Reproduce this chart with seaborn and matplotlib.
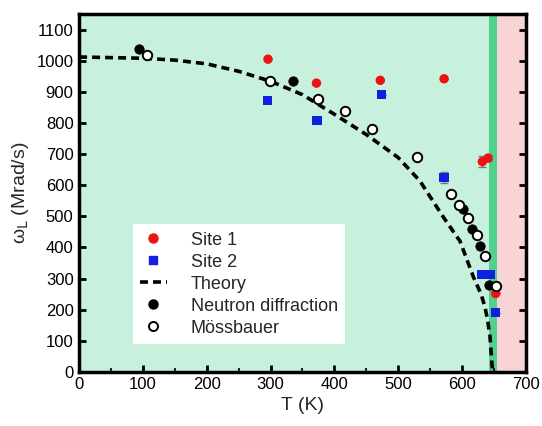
import matplotlib
matplotlib.use("Agg")
import matplotlib.pyplot as plt
import seaborn as sns
import pandas as pd

# --- data ---
site1_T = [296, 372, 472, 572, 632, 641, 653]
site1_w = [1005, 928, 937, 942, 676, 687, 252]
site1_err = [0, 0, 0, 0, 18, 10, 0]

site2_T = [295, 373, 474, 572, 631, 644, 653]
site2_w = [873, 808, 891, 625, 313, 313, 190]
site2_err = [0, 0, 0, 18, 0, 0, 0]

theory_T = [0, 100, 150, 200, 250, 300, 350, 400, 450, 500, 534, 571, 597,
            618, 630, 636, 640, 644, 648]
theory_w = [1012, 1008, 1002, 990, 966, 934, 891, 828, 763, 689, 614, 497,
            420, 305, 250, 209, 170, 113, 0]

neutron_T = [94, 335, 602, 616, 628, 643]
neutron_w = [1039, 934, 525, 459, 404, 278]

moss_T = [106, 299, 375, 416, 459, 529, 583, 595, 610, 623, 636, 653]
moss_w = [1017, 934, 878, 838, 782, 691, 571, 537, 493, 441, 374, 275]

# phase regions (K)
region_T = [0, 642, 655, 700]
region_colors = ["#c8f1dd", "#52d08e", "#f8d4d6"]

sns.set_theme(style="ticks")
plt.rcParams["font.family"] = ["Liberation Sans", "DejaVu Sans"]

fig, ax = plt.subplots(figsize=(5.42, 4.26), dpi=100)
fig.subplots_adjust(left=0.146, right=0.970, bottom=0.127, top=0.967)

for (t0, t1), c in zip(zip(region_T[:-1], region_T[1:]), region_colors):
    ax.axvspan(t0, t1, color=c, lw=0, zorder=0)

theory_df = pd.DataFrame({"T": theory_T, "w": theory_w})
sns.lineplot(data=theory_df, x="T", y="w", ax=ax, color="black", lw=2.6,
             zorder=3, sort=False)
ax.lines[-1].set_dashes((2.2, 1.4))

ax.errorbar(site1_T, site1_w, yerr=site1_err, fmt="none", ecolor="#777777",
            elinewidth=1, capsize=3, zorder=3)
ax.errorbar(site2_T, site2_w, yerr=site2_err, fmt="none", ecolor="#777777",
            elinewidth=1, capsize=3, zorder=3)

ms = 46
sns.scatterplot(x=site1_T, y=site1_w, ax=ax, color="#ee1111", marker="o",
                s=ms, edgecolor="none", zorder=4)
sns.scatterplot(x=site2_T, y=site2_w, ax=ax, color="#1020e0", marker="s",
                s=ms, edgecolor="none", zorder=4)
sns.scatterplot(x=neutron_T, y=neutron_w, ax=ax, color="black", marker="o",
                s=ms, edgecolor="black", zorder=5)
sns.scatterplot(x=moss_T, y=moss_w, ax=ax, color="white", marker="o",
                s=ms, edgecolor="black", linewidth=1.4, zorder=6)

ax.set_xlim(0, 700)
ax.set_ylim(0, 1150)
ax.set_xticks(range(0, 701, 100))
ax.set_xticks(range(50, 700, 100), minor=True)
ax.set_yticks(range(0, 1101, 100))
ax.tick_params(axis="both", direction="in", length=5, width=2, labelsize=12,
               pad=4, colors="black")
ax.tick_params(axis="x", which="minor", direction="in", length=3, width=1.5)
ax.tick_params(axis="y", right=True, labelright=False)
for sp in ax.spines.values():
    sp.set_visible(True)
    sp.set_linewidth(2.5)
    sp.set_color("black")

ax.set_xlabel("T (K)", fontsize=14, labelpad=3)
ax.set_ylabel("ω$_\\mathrm{L}$ (Mrad/s)", fontsize=14, labelpad=4)

handles = [
    plt.Line2D([], [], ls="none", marker="o", color="#ee1111", ms=6.5),
    plt.Line2D([], [], ls="none", marker="s", color="#1020e0", ms=6),
    plt.Line2D([], [], ls=(0, (2.2, 1.4)), color="black", lw=2.6),
    plt.Line2D([], [], ls="none", marker="o", color="black", ms=6.5),
    plt.Line2D([], [], ls="none", marker="o", mfc="white", mec="black",
               mew=1.4, ms=6.5),
]
labels = ["Site 1", "Site 2", "Theory", "Neutron diffraction", "Mössbauer"]
leg = ax.legend(handles, labels, loc="lower left", bbox_to_anchor=(0.12, 0.078),
                fontsize=13, frameon=True, fancybox=False, framealpha=1,
                edgecolor="white", handlelength=1.5, handletextpad=1.3,
                labelspacing=0.28, borderpad=0.4, borderaxespad=0)
leg.get_frame().set_linewidth(0)

fig.savefig("out.png", dpi=100)
